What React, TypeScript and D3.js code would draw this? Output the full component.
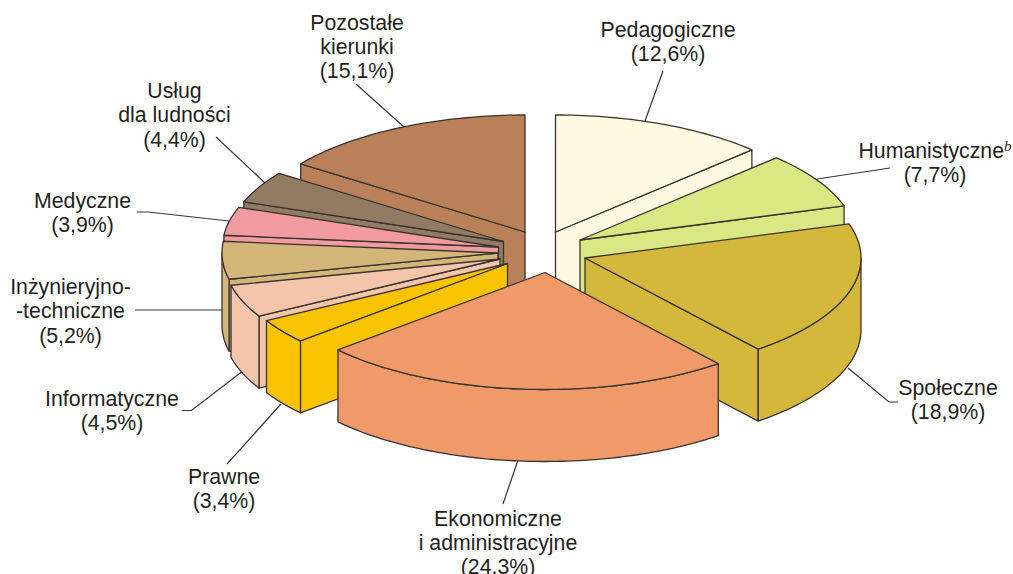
import React from "react";
import * as d3 from "d3";

const categories = ["Pedagogiczne","Humanistyczne","Społeczne","Ekonomiczne i administracyjne","Prawne","Informatyczne","Inżynieryjno-techniczne","Medyczne","Usług dla ludności","Pozostałe kierunki"];
const shares = [12.6,7.7,18.9,24.3,3.4,4.5,5.2,3.9,4.4,15.1];
const colours = ["#FFF9E1","#D9E883","#D4B83B","#EF9A68","#F8C300","#F4C4AB","#D3B678","#F19AA0","#917B62","#B9805A"];
const explodeX = [25.5,50,55,15,-22.5,-30,-32,-31.5,-26.5,-5];
const explodeY = [-18,-10,8,22.5,13.5,9,3,-3,-8.5,-18];
const paintOrder = [0,9,8,7,6,5,1,2,4,3];

const CX = 530, CY = 250, RX = 276, RY = 117, DEPTH = 72;
const STROKE = "#3a3430";
const LINE_GAP = 24.3;

const labelLines = [
  ["Pedagogiczne","(12,6%)"],["Humanistyczne","(7,7%)"],["Społeczne","(18,9%)"],
  ["Ekonomiczne","i administracyjne","(24,3%)"],["Prawne","(3,4%)"],["Informatyczne","(4,5%)"],
  ["Inżynieryjno-","-techniczne","(5,2%)"],["Medyczne","(3,9%)"],["Usług","dla ludności","(4,4%)"],
  ["Pozostałe","kierunki","(15,1%)"],
];
const labelX = [668,935,948,498,224,112,70.5,82.5,174.5,357];
const labelY = [37,158,395,525.5,484,406,294,207.5,98,29.5];
const leaders: [number, number][][] = [
  [[645,121],[663,71]],
  [[817,179],[890,168]],
  [[848,368],[889,402],[898,402]],
  [[518,460],[503,504]],
  [[281,404],[227,464]],
  [[241.5,372],[191.5,410.5],[181.5,410.5]],
  [[222,310],[135,310]],
  [[229,221],[148,212],[137,212]],
  [[265,183],[216,137]],
  [[404,127],[356,84]],
];

const pieAngles = d3.pie<number>().sort(null).value(d => d).startAngle(0).endAngle(2 * Math.PI)(shares);
const pathOf = d3.line<[number, number]>().curve(d3.curveLinear);

function arcPoints(ox: number, oy: number, a: number, b: number, dy = 0): [number, number][] {
  const n = Math.max(2, Math.ceil(Math.abs(b - a) / 0.02));
  return d3.range(n + 1).map(i => {
    const t = a + (b - a) * i / n;
    return [ox + RX * Math.sin(t), oy - RY * Math.cos(t) + dy] as [number, number];
  });
}

function Slice({ i }: { i: number }) {
  const { startAngle: a, endAngle: b } = pieAngles[i];
  const ox = CX + explodeX[i], oy = CY + explodeY[i];
  const fill = colours[i];
  const top: [number, number][] = [[ox, oy], ...arcPoints(ox, oy, a, b)];
  const cutFace = (t: number) => {
    const p: [number, number] = [ox + RX * Math.sin(t), oy - RY * Math.cos(t)];
    const q: [number, number][] = [[ox, oy], p, [p[0], p[1] + DEPTH], [ox, oy + DEPTH]];
    return pathOf(q) + "Z";
  };
  const lo = Math.max(a, Math.PI / 2), hi = Math.min(b, 1.5 * Math.PI);
  const props = { fill, stroke: STROKE, strokeWidth: 1.3, strokeLinejoin: "round" as const };
  return (
    <g>
      {Math.sin(b) > 0.001 && <path d={cutFace(b)} {...props} />}
      {Math.sin(a) < -0.001 && <path d={cutFace(a)} {...props} />}
      {hi > lo && (
        <path d={pathOf([...arcPoints(ox, oy, lo, hi), ...arcPoints(ox, oy, hi, lo, DEPTH)]) + "Z"} {...props} />
      )}
      <path d={pathOf(top) + "Z"} {...props} />
    </g>
  );
}

export default function App() {
  return (
    <svg width={1013} height={574} style={{ position: "absolute", left: 0, top: 0, background: "#fff" }}
      fontFamily="'Liberation Sans', Arial, sans-serif" fontSize={21.3}>
      {leaders.map((pts, i) => (
        <path key={i} d={pathOf(pts) ?? ""} fill="none" stroke={STROKE} strokeWidth={1.2} />
      ))}
      {paintOrder.map(i => <Slice key={i} i={i} />)}
      {labelLines.map((lines, i) => (
        <g key={categories[i]} fill="#231f20" textAnchor="middle">
          {lines.map((s, j) => (
            <text key={j} x={labelX[i]} y={labelY[i] + j * LINE_GAP}>
              {s}
              {i === 1 && j === 0 && (
                <tspan fontFamily="'Liberation Serif', serif" fontStyle="italic" fontSize={15} baselineShift="7">b</tspan>
              )}
            </text>
          ))}
        </g>
      ))}
    </svg>
  );
}
